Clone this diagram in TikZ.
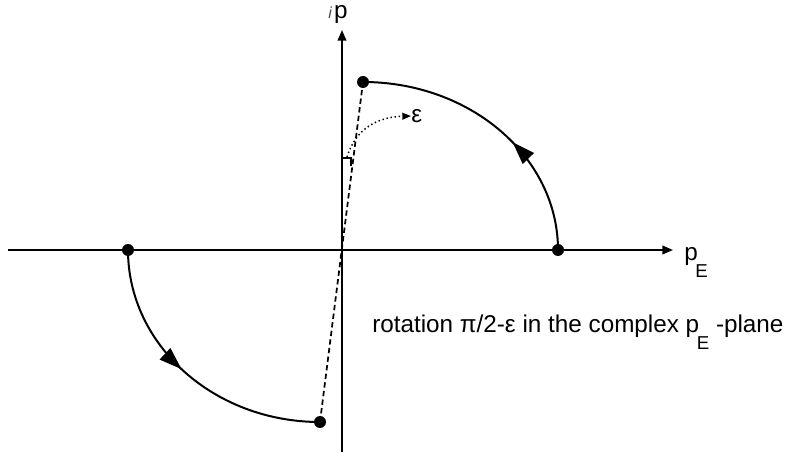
\documentclass[tikz,border=0pt]{standalone}
\usepackage{fontspec}
\setmainfont{Liberation Sans}
\usetikzlibrary{arrows.meta,decorations.markings}
\newcommand{\pEsub}{p\kern-0.1em\raisebox{-1.3ex}{\fontsize{14}{15}\selectfont E}}
\tikzset{
  axis/.style={line width=1.3pt,-{Triangle[length=8pt,width=6.5pt]}},
  contour/.style={line width=1.5pt},
  dot/.style={circle,fill=black,inner sep=0pt,minimum size=9pt},
  midarrow/.style={postaction={decorate},
    decoration={markings,mark=at position #1 with {\arrow{Triangle[length=17pt,width=11.5pt]}}}},
  lbl/.style={font=\fontsize{18.2}{21}\selectfont,inner sep=0pt},
}
\begin{document}
\begin{tikzpicture}[x=0.75pt,y=-0.75pt]
\useasboundingbox (0,0) rectangle (794,456);
% points
\coordinate (O) at (342,250);
\coordinate (xl) at (8,250);
\coordinate (xr) at (673,250);
\coordinate (yb) at (342,452);
\coordinate (yt) at (342,30);
\node[dot] (top) at (363,82) {};
\node[dot] (right) at (558,250) {};
\node[dot] (left) at (128,250) {};
\node[dot] (bot) at (320,422) {};
% axes
\draw[axis] (xl) -- (xr);
\draw[axis] (yb) -- (yt);
\node[lbl,anchor=base west] (pE) at (684,261) {\pEsub};
\node[lbl,anchor=base west] (ip) at (328,19) {{\fontsize{12}{13}\selectfont\itshape\color{black!70}i}\kern0.1em p};
% rotated line
\draw[line width=1.3pt,dash pattern=on 4pt off 2.5pt] (bot.center) -- (top.center);
% contour arcs
\draw[contour,midarrow=0.42] (right.center) arc[start angle=0,end angle=-90,x radius=195,y radius=168];
\draw[contour,midarrow=0.47] (left.center) arc[start angle=180,end angle=90,x radius=192,y radius=172];
% angle epsilon
\coordinate (m1) at (342,158);
\coordinate (m2) at (351,158);
\coordinate (m3) at (351,166);
\draw[line width=1pt] (m1) -- (m2) -- (m3);
\node[lbl,anchor=west] (eps) at (411,116) {ε};
\draw[line width=1.1pt,dotted,-{Triangle[length=6.5pt,width=5pt]}] (347,157) .. controls (356,128) and (378,117) .. (eps.west);
% caption
\node[lbl,anchor=base west] (cap) at (372,333) {rotation π/2-ε in the complex \pEsub\ -plane};
\end{tikzpicture}
\end{document}
